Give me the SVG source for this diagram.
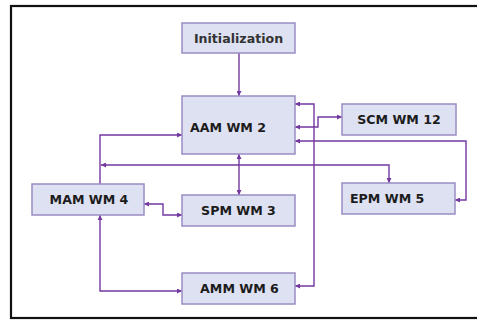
<svg xmlns="http://www.w3.org/2000/svg" width="477" height="320" viewBox="0 0 477 320">
<defs>
<marker id="ah" viewBox="0 0 10 10" refX="10" refY="5" markerWidth="5" markerHeight="5" orient="auto-start-reverse" markerUnits="userSpaceOnUse">
<path d="M0,0 L10,5 L0,10 z" fill="#7338a0"/>
</marker>
<style>
.box{fill:#dde1f1;stroke:#9a8cc4;stroke-width:1.5}
.t{font-family:"DejaVu Sans",Verdana,sans-serif;font-weight:bold;font-size:12.6px;fill:#1c1c1c}
.m{text-anchor:middle}
.c{fill:none;stroke:#7338a0;stroke-width:1.4}
</style>
</defs>
<rect x="0" y="0" width="477" height="320" fill="#fff"/>
<rect x="11" y="6" width="480" height="312" fill="none" stroke="#111" stroke-width="2.2"/>
<g id="connectors">
<path class="c" d="M239,53 V96" marker-end="url(#ah)"/>
<path class="c" d="M295,104 H314 V286 H295" marker-start="url(#ah)" marker-end="url(#ah)"/>
<path class="c" d="M295,127 H318 V117 H342" marker-start="url(#ah)" marker-end="url(#ah)"/>
<path class="c" d="M295,141 H466 V200 H455" marker-start="url(#ah)" marker-end="url(#ah)"/>
<path class="c" d="M100,184 V135 H182" marker-end="url(#ah)"/>
<path class="c" d="M101,165 H389 V183" marker-start="url(#ah)" marker-end="url(#ah)"/>
<path class="c" d="M239,154 V195" marker-start="url(#ah)" marker-end="url(#ah)"/>
<path class="c" d="M144,204 H163 V215 H182" marker-start="url(#ah)" marker-end="url(#ah)"/>
<path class="c" d="M100,215 V291 H182" marker-start="url(#ah)" marker-end="url(#ah)"/>
</g>
<g id="init"><rect class="box" x="182" y="23" width="113" height="30"/><text class="t m" x="238.5" y="42.5" style="fill:#333">Initialization</text></g>
<g id="aam"><rect class="box" x="182" y="96" width="113" height="58"/><text class="t" x="190" y="131.5">AAM WM 2</text></g>
<g id="scm"><rect class="box" x="342" y="104" width="114" height="31"/><text class="t m" x="399" y="124">SCM WM 12</text></g>
<g id="mam"><rect class="box" x="32" y="184" width="112" height="31"/><text class="t m" x="89" y="204">MAM WM 4</text></g>
<g id="spm"><rect class="box" x="182" y="195" width="113" height="31"/><text class="t m" x="238.5" y="215">SPM WM 3</text></g>
<g id="epm"><rect class="box" x="342" y="183" width="113" height="31"/><text class="t" x="350" y="203">EPM WM 5</text></g>
<g id="amm"><rect class="box" x="182" y="273" width="113" height="31"/><text class="t m" x="239.5" y="293">AMM WM 6</text></g>
</svg>
